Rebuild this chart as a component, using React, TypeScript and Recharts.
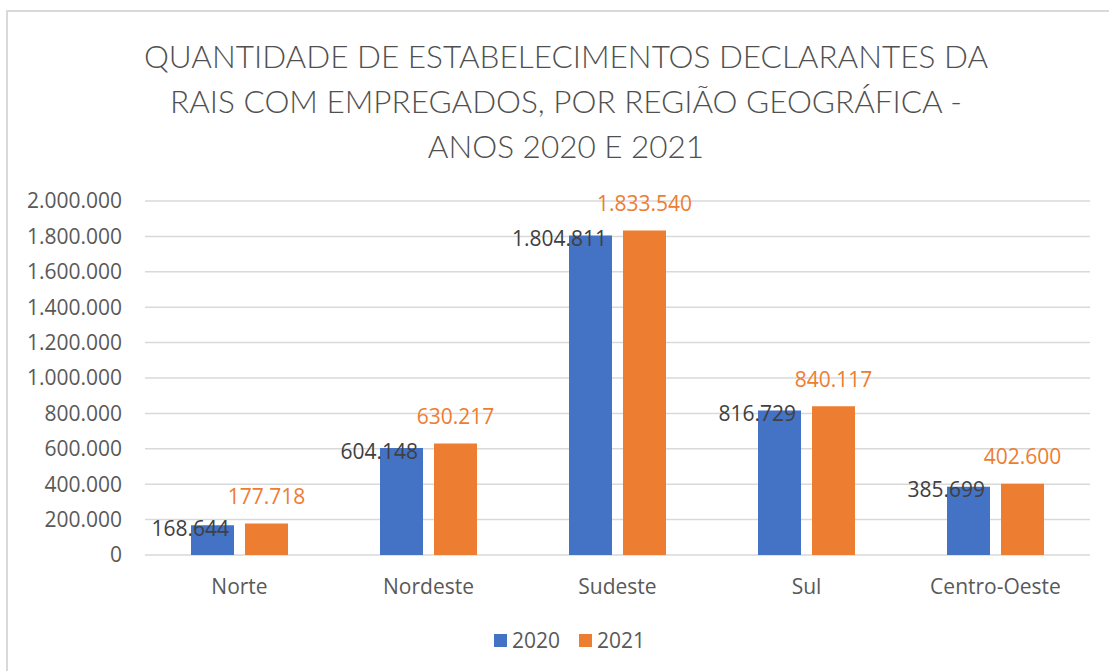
import { BarChart, Bar, XAxis, YAxis, CartesianGrid, LabelList } from 'recharts'

const regions = ['Norte', 'Nordeste', 'Sudeste', 'Sul', 'Centro-Oeste']
const values2020 = [168644, 604148, 1804811, 816729, 385699]
const values2021 = [177718, 630217, 1833540, 840117, 402600]
const yTicks = [0, 200000, 400000, 600000, 800000, 1000000, 1200000, 1400000, 1600000, 1800000, 2000000]
const titleLines = [
  'QUANTIDADE DE ESTABELECIMENTOS DECLARANTES DA',
  'RAIS COM EMPREGADOS, POR REGIÃO GEOGRÁFICA -',
  'ANOS 2020 E 2021',
]
const seriesNames = ['2020', '2021']

const BLUE = '#4472C4'
const ORANGE = '#ED7D31'
const FONT = '"Open Sans", sans-serif'

const fmt = (v: number) => v.toLocaleString('de-DE')

const data = regions.map((name, i) => ({
  name,
  y2020: values2020[i],
  y2021: values2021[i],
}))

// 2020 labels sit to the left, overlapping the bar top
const Label2020 = (props: any) => {
  const { x, y, width, value } = props
  return (
    <text x={x + width - 5} y={y + 5} textAnchor="end" dominantBaseline="middle"
      fill="#404040" style={{ fontSize: 21, fontFamily: FONT }}>
      {fmt(value)}
    </text>
  )
}

const Label2021 = (props: any) => {
  const { x, y, width, value } = props
  return (
    <text x={x + width / 2} y={y - 25} textAnchor="middle" dominantBaseline="middle"
      fill={ORANGE} style={{ fontSize: 21, fontFamily: FONT }}>
      {fmt(value)}
    </text>
  )
}

export default function App() {
  return (
    <div style={{ position: 'absolute', left: 0, top: 0, width: 1109, height: 671, background: '#fff', overflow: 'hidden' }}>
      <div style={{ position: 'absolute', left: 6, top: 10, width: 1200, height: 700, border: '2px solid #d9d9d9', boxSizing: 'border-box' }} />
      <div style={{ position: 'absolute', left: 0, top: 34, width: 1132, textAlign: 'center', fontFamily: 'Lato, sans-serif', fontWeight: 300, fontSize: 31.5, lineHeight: '45px', color: '#505050' }}>
        {titleLines.map((l) => <div key={l}>{l}</div>)}
      </div>
      <div style={{ position: 'absolute', left: 0, top: 0 }}>
        <BarChart width={1109} height={671} data={data} barSize={43} barGap={11}
          margin={{ top: 201, right: 19, left: 0, bottom: 0 }}>
          <CartesianGrid vertical={false} stroke="#d9d9d9" strokeWidth={1.5} />
          <YAxis width={145} domain={[0, 2000000]} ticks={yTicks} interval={0}
            axisLine={false} tickLine={false} tickSize={0} tickMargin={23}
            tickFormatter={fmt}
            tick={{ fill: '#595959', fontSize: 21, fontFamily: FONT }} />
          <XAxis dataKey="name" axisLine={false} tickLine={false} tickSize={0} tickMargin={24} height={116}
            tick={{ fill: '#595959', fontSize: 21, fontFamily: FONT }} />
          <Bar dataKey="y2020" name="2020" fill={BLUE} isAnimationActive={false}>
            <LabelList dataKey="y2020" content={<Label2020 />} />
          </Bar>
          <Bar dataKey="y2021" name="2021" fill={ORANGE} isAnimationActive={false}>
            <LabelList dataKey="y2021" content={<Label2021 />} />
          </Bar>
        </BarChart>
      </div>
      {/* legend */}
      <div style={{ position: 'absolute', left: 494, top: 626, display: 'flex', alignItems: 'center', gap: 19, fontFamily: FONT, fontSize: 21, color: '#595959' }}>
        {seriesNames.map((label, i) => (
          <div key={label} style={{ display: 'flex', alignItems: 'center', gap: 5 }}>
            <div style={{ width: 13, height: 13, background: i === 0 ? BLUE : ORANGE }} />
            <span>{label}</span>
          </div>
        ))}
      </div>
    </div>
  )
}
